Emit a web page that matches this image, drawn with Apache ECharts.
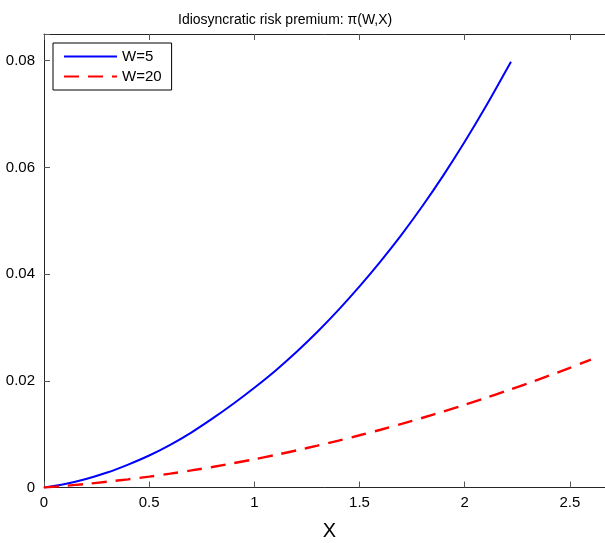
<!DOCTYPE html>
<html>
<head>
<meta charset="utf-8">
<script src="https://cdn.jsdelivr.net/npm/echarts@6/dist/echarts.min.js"></script>
<style>
  html, body { margin: 0; padding: 0; background: #fff; }
  #chart { width: 605px; height: 543px; }
</style>
</head>
<body>
<div id="chart"></div>
<script>
// W=5 curve
const xW5 = [0, 0.1, 0.2, 0.3, 0.4, 0.5, 0.6, 0.7, 0.8, 0.9, 1.0, 1.1, 1.2, 1.3, 1.4, 1.5, 1.6, 1.7, 1.8, 1.9, 2.0, 2.1, 2.2, 2.22]
const yW5 = [0, 0.00066, 0.0016, 0.0028, 0.0043, 0.0060, 0.0080, 0.0103, 0.0129, 0.0157, 0.0187, 0.0219, 0.0254, 0.0292, 0.0333, 0.0377, 0.0424, 0.0474, 0.0528, 0.0586, 0.0648, 0.0714, 0.0784, 0.0798]
// W=20 curve
const xW20 = [0, 0.1, 0.2, 0.3, 0.4, 0.5, 0.6, 0.7, 0.8, 0.9, 1.0, 1.1, 1.2, 1.3, 1.4, 1.5, 1.6, 1.7, 1.8, 1.9, 2.0, 2.1, 2.2, 2.3, 2.4, 2.5, 2.6]
const yW20 = [0, 0.00031, 0.00067, 0.00108, 0.00153, 0.00204, 0.00259, 0.0032, 0.00385, 0.00455, 0.0053, 0.0061, 0.00695, 0.00785, 0.00879, 0.00979, 0.01083, 0.01193, 0.01307, 0.01426, 0.0155, 0.01679, 0.01813, 0.01952, 0.02095, 0.02244, 0.02397]

const font = 'Liberation Sans, Arial, sans-serif'
const axisCol = '#262626'

const chart = echarts.init(document.getElementById('chart'))
chart.setOption({
  animation: false,
  title: {
    text: 'Idiosyncratic risk premium: π(W,X)',
    left: 173, top: 8,
    textStyle: { fontFamily: font, fontSize: 14, fontWeight: 'normal', color: '#000' }
  },
  legend: {
    orient: 'vertical',
    left: 53, top: 43,
    padding: [6, 10, 6, 10],
    itemWidth: 53, itemHeight: 14, itemGap: 5,
    borderColor: '#000', borderWidth: 1,
    itemStyle: { opacity: 0 },
    textStyle: { fontFamily: font, fontSize: 15, color: '#000' },
    data: ['W=5', 'W=20']
  },
  // plot box runs past the right edge of the picture
  grid: { left: 44, top: 34, width: 589, height: 453.5, outerBoundsMode: 'none', containLabel: false },
  xAxis: [{
    type: 'value', min: 0, max: 2.8, interval: 0.5,
    name: 'X', nameLocation: 'middle', nameGap: 34,
    nameTextStyle: { fontFamily: font, fontSize: 20, color: '#000', padding: [0, 18, 0, 0] },
    axisLine: { onZero: false, lineStyle: { color: axisCol, width: 1 } },
    axisTick: { inside: true, length: 6, lineStyle: { color: '#555' } },
    axisLabel: {
      margin: 8, fontFamily: font, fontSize: 15, color: '#000',
      formatter: v => Math.abs(v / 0.5 - Math.round(v / 0.5)) < 1e-6 ? String(+v.toFixed(1)) : ''
    },
    splitLine: { show: false }
  }, {
    type: 'value', min: 0, max: 2.8, interval: 0.5, position: 'top',
    axisLine: { onZero: false, lineStyle: { color: axisCol, width: 1 } },
    axisTick: { inside: true, length: 6, lineStyle: { color: '#555' } },
    axisLabel: { show: false },
    splitLine: { show: false }
  }],
  yAxis: {
    type: 'value', min: 0, max: 0.085, interval: 0.02,
    axisLine: { show: true, onZero: false, lineStyle: { color: axisCol, width: 1 } },
    axisTick: { show: true, inside: true, length: 6, lineStyle: { color: '#555' } },
    axisLabel: {
      margin: 9, fontFamily: font, fontSize: 15, color: '#000',
      formatter: v => Math.abs(v / 0.02 - Math.round(v / 0.02)) < 1e-6 ? (v === 0 ? '0' : v.toFixed(2)) : ''
    },
    splitLine: { show: false }
  },
  series: [
    {
      name: 'W=5', type: 'line', showSymbol: false, symbol: 'none', smooth: 0.3,
      lineStyle: { color: '#0000ff', width: 2 }, itemStyle: { color: '#0000ff' },
      data: xW5.map((x, i) => [x, yW5[i]])
    },
    {
      name: 'W=20', type: 'line', showSymbol: false, symbol: 'none', smooth: 0.3,
      lineStyle: { color: '#ff0000', width: 2.4, type: [15, 9] }, itemStyle: { color: '#ff0000' },
      data: xW20.map((x, i) => [x, yW20[i]])
    }
  ]
})
</script>
</body>
</html>
